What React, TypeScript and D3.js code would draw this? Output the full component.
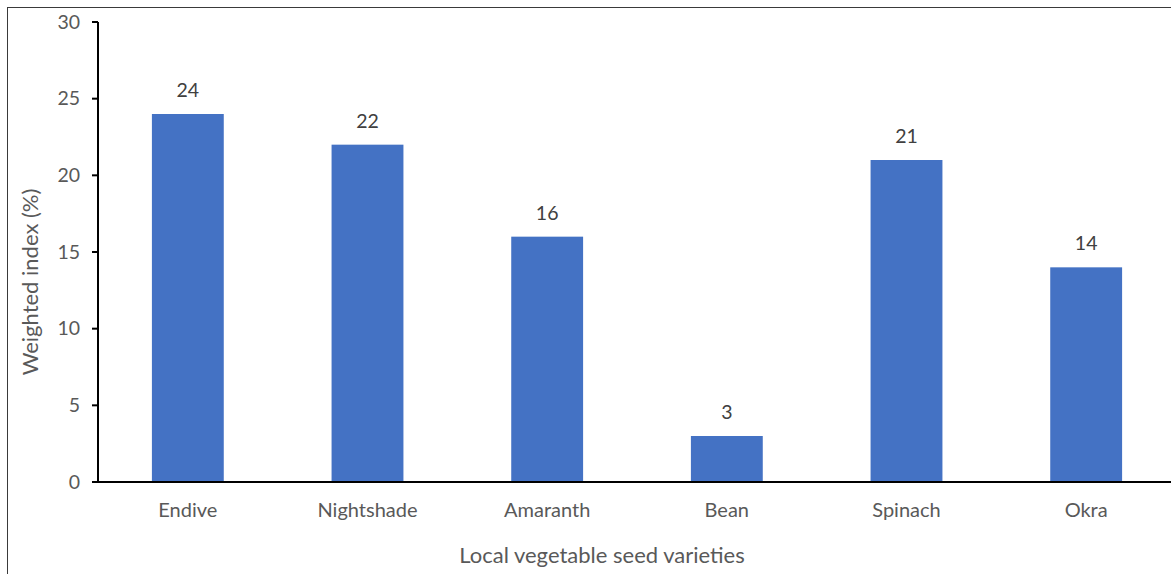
import React from "react";
import * as d3 from "d3";

const categories = ["Endive", "Nightshade", "Amaranth", "Bean", "Spinach", "Okra"];
const values = [24, 22, 16, 3, 21, 14];
const yTicks = [0, 5, 10, 15, 20, 25, 30];
const xTitle = "Local vegetable seed varieties";
const yTitle = "Weighted index (%)";

const W = 1171;
const H = 574;
const FONT = "Lato, 'Open Sans', sans-serif";

export default function App() {
  const left = 98;
  const right = 1176;
  const top = 22;
  const bottom = 482;
  const x = d3
    .scaleBand<string>()
    .domain(categories)
    .range([left, right])
    .paddingInner(0.6)
    .paddingOuter(0.3);
  const y = d3.scaleLinear().domain([0, 30]).range([bottom, top]);

  return (
    <svg
      width={W}
      height={H}
      style={{ position: "absolute", left: 0, top: 0, background: "#fff" }}
      fontFamily={FONT}
    >
      <rect x={7.5} y={7.5} width={1200} height={600} fill="#fff" stroke="#3a3a3a" strokeWidth={1} />
      {categories.map((c, i) => (
        <g key={c}>
          <rect
            x={x(c)}
            y={y(values[i])}
            width={x.bandwidth()}
            height={bottom - y(values[i])}
            fill="#4472C4"
          />
          <text
            x={(x(c) as number) + x.bandwidth() / 2}
            y={y(values[i]) - 17}
            textAnchor="middle"
            fontSize={19.5}
            fill="#404040"
          >
            {values[i]}
          </text>
          <text
            x={(x(c) as number) + x.bandwidth() / 2}
            y={bottom + 35}
            textAnchor="middle"
            fontSize={20}
            fill="#595959"
          >
            {c}
          </text>
        </g>
      ))}
      <line x1={left} x2={left} y1={top} y2={bottom} stroke="#000" strokeWidth={2} />
      <line x1={left - 6} x2={right} y1={bottom} y2={bottom} stroke="#000" strokeWidth={2} />
      {yTicks.map((t) => (
        <g key={t}>
          <line x1={left - 6} x2={left} y1={y(t)} y2={y(t)} stroke="#000" strokeWidth={2} />
          <text
            x={left - 18}
            y={y(t)}
            dy="0.35em"
            textAnchor="end"
            fontSize={19.5}
            fill="#595959"
          >
            {t}
          </text>
        </g>
      ))}
      <text
        x={602}
        y={563}
        textAnchor="middle"
        fontSize={22}
        fill="#595959"
      >
        {xTitle}
      </text>
      <text
        transform={`translate(38, ${(top + bottom) / 2 + 30}) rotate(-90)`}
        textAnchor="middle"
        fontSize={22}
        fill="#595959"
      >
        {yTitle}
      </text>
    </svg>
  );
}
